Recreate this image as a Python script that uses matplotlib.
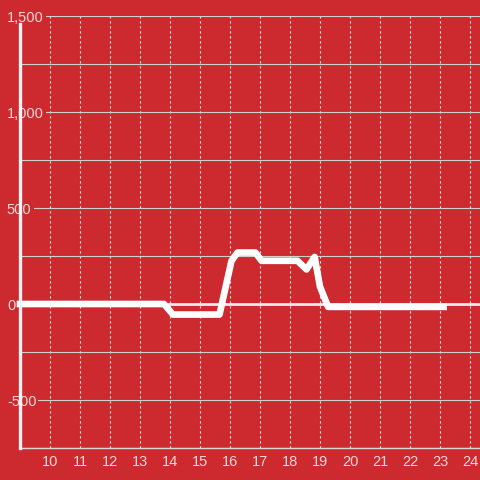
import matplotlib
matplotlib.use("Agg")
import matplotlib.pyplot as plt
from matplotlib.ticker import FuncFormatter

# hour of day vs value
hours = [9.0, 13.8, 14.1, 15.65, 16.05, 16.25, 16.85, 17.05, 18.25, 18.55, 18.82, 19.0, 19.27, 23.12]
values = [0, 0, -55, -55, 225, 268, 268, 225, 225, 180, 245, 90, -15, -15]

x_ticks = list(range(10, 25))
y_major = [-500, 0, 500, 1000, 1500]
y_minor = [-750, -250, 250, 750, 1250]

bg = '#cc2a2f'
txt = '#f3d6d6'
plt.rcParams['font.family'] = ['Liberation Sans', 'DejaVu Sans']

fig = plt.figure(figsize=(4.8, 4.8), dpi=100, facecolor=bg)
ax = fig.add_axes([20/480, 32/480, 460/480, 432/480])
ax.set_facecolor(bg)

ax.set_xlim(9, 9 + 460/30)
ax.set_ylim(-750, 1500)

# grid
ax.set_yticks(y_major)
ax.set_yticks(y_minor, minor=True)
ax.set_xticks(x_ticks)
ax.yaxis.set_major_formatter(FuncFormatter(lambda v, p: f'{int(v):,}'))
ax.grid(axis='y', which='both', color='#cfcfcf', linewidth=0.8)
ax.grid(axis='x', color='#e6e6e6', linewidth=0.8, linestyle=(0, (2, 2.5)))

ax.axhline(0, color='#ececec', linewidth=2.0, zorder=2)

# the series
ax.plot(hours, values, color='white', linewidth=4.8, solid_joinstyle='round',
        solid_capstyle='projecting', clip_on=False, zorder=3)

for s in ['top', 'right']:
    ax.spines[s].set_visible(False)
ax.spines['bottom'].set_color('#d8d8d8')
ax.spines['bottom'].set_linewidth(1.0)
ax.spines['left'].set_color('#f4f4f4')
ax.spines['left'].set_linewidth(2.4)
ax.spines['left'].set_bounds(-750, 1460)
ax.spines['left'].set_zorder(5)
ax.yaxis.set_zorder(1.5)
ax.xaxis.set_zorder(1)

ax.tick_params(axis='y', which='both', length=0, pad=9.4, labelsize=10.5, labelcolor=txt)
ax.tick_params(axis='x', length=0, pad=5, labelsize=10.5, labelcolor=txt)
for lbl in ax.get_yticklabels():
    lbl.set_horizontalalignment('left')
    lbl.set_bbox(dict(facecolor=bg, edgecolor='none', pad=1.5))

fig.savefig('out.png', dpi=100, facecolor=bg)
